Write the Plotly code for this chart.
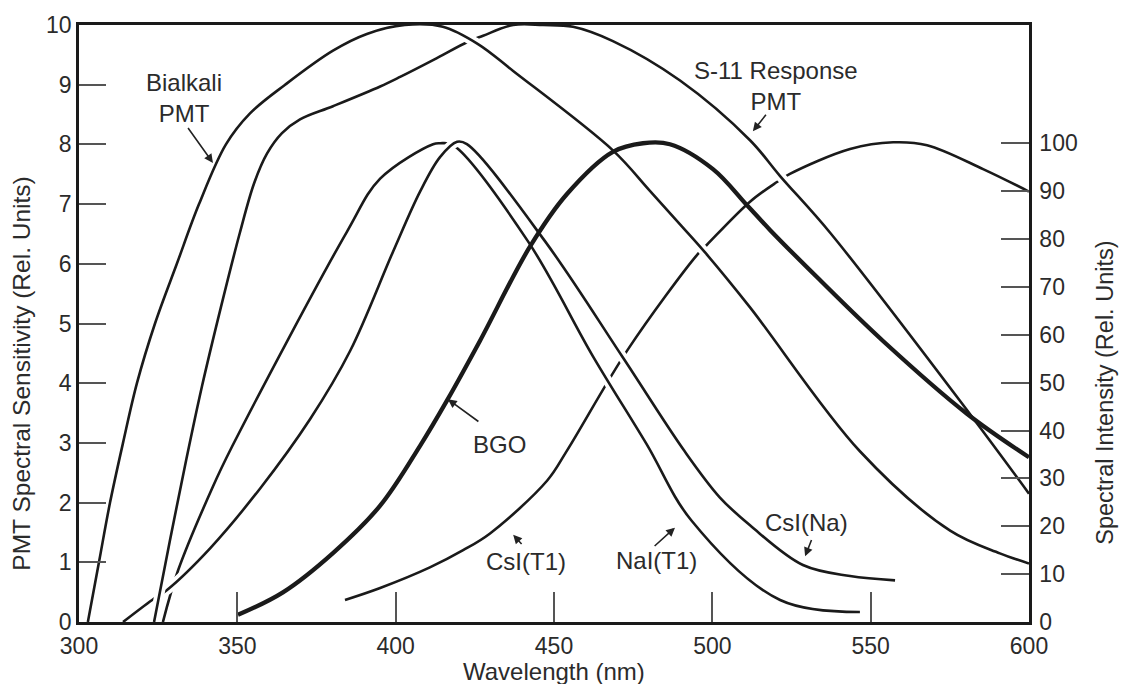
import plotly.graph_objects as go

# ---- PMT spectral sensitivity (relative units, left axis) ----
bialkali_nm = [302.8, 306.3, 309.8, 313.9, 318.3, 324.0, 330.9, 337.9, 346.4, 354.0, 365.1,
               380.2, 390.9, 402.9, 414.9, 426.0, 437.1, 468.6, 480.0, 489.8, 497.7, 511.9,
               546.6, 575.1, 590.8, 600]
bialkali_val = [0, 1.0, 2.0, 3.0, 4.0, 5.0, 6.0, 7.0, 8.0, 8.52, 9.0,
                9.57, 9.85, 10.0, 9.97, 9.68, 9.23, 7.9, 7.24, 6.66, 6.19, 5.27,
                2.86, 1.53, 1.15, 0.98]

s11_nm = [323.7, 328.7, 333.8, 338.8, 344.8, 350.8, 355.3, 359.4, 364.1, 369.8, 380.2, 395.1,
          401.4, 412.1, 422.8, 427.6, 437.1, 446.5, 456.0, 468.6, 489.8, 511.9, 521.4, 537.2,
          581.4, 600]
s11_val = [0, 1.36, 2.70, 3.94, 5.27, 6.52, 7.35, 7.85, 8.19, 8.42, 8.64, 8.97,
           9.13, 9.42, 9.72, 9.82, 10.0, 10.0, 9.97, 9.73, 9.07, 8.07, 7.47, 6.52,
           3.48, 2.15]

# ---- scintillator emission spectra (relative intensity, right axis) ----
nai_nm = [326.5, 331.3, 342.3, 348.3, 384.6, 395.1, 411.8, 414.0, 418.1, 441.8, 462.3, 479.2,
          493.4, 521.4, 546.6]
nai_int = [0, 10.8, 28.3, 36.6, 81.5, 92.6, 99.8, 100, 99.6, 79.5, 55.5, 37.2,
           21.2, 4.6, 2.1]

csina_nm = [313.9, 323.1, 327.8, 341.4, 357.2, 373.0, 385.6, 399.2, 407.7, 414.0, 419.4, 422.5,
            447.2, 471.5, 491.1, 502.4, 511.9, 528.6, 543.5, 557.7]
csina_int = [0, 4.6, 6.7, 15.4, 27.9, 42.4, 56.6, 77.4, 89.9, 97.1, 100.3, 99.8,
             79.5, 55.5, 35.8, 26.0, 20.2, 11.9, 9.6, 8.7]

bgo_nm = [350.2, 364.4, 380.2, 395.1, 407.7, 416.5, 426.6, 442.4, 454.1, 468.6, 478.1, 486.6,
          500.2, 510.9, 518.2, 533.1, 553.9, 580.4, 600]
bgo_int = [1.5, 6.2, 14.4, 24.3, 36.8, 46.6, 58.7, 78.4, 89.4, 98.2, 100, 99.8,
           94.6, 87.1, 81.9, 72.0, 58.7, 43.5, 34.4]

csitl_nm = [384.0, 395.1, 410.8, 421.3, 429.8, 447.8, 454.1, 473.4, 495.2, 498.3, 511.9, 520.4,
            524.5, 543.5, 557.1, 567.8, 585.5, 600]
csitl_int = [4.6, 7.1, 11.4, 15.0, 18.5, 29.5, 35.8, 57.0, 76.7, 78.8, 87.8, 91.9,
             93.6, 98.8, 100.2, 99.6, 94.6, 89.9]

x_ticks = [300, 350, 400, 450, 500, 550, 600]
left_ticks = list(range(0, 11))
right_ticks = list(range(0, 101, 10))

FONT = "Liberation Sans, Arial, sans-serif"
INK = "#1a1a1a"
TXT = "#2b2b2b"
THIN = 2.6
THICK = 4.3
HALO = 10


def window(xs, ys, lo, hi):
    pts = [(a, b) for a, b in zip(xs, ys) if lo <= a <= hi]
    return [p[0] for p in pts], [p[1] for p in pts]


def curve(xs, ys, axis, width, color=INK, name=None):
    return go.Scatter(x=xs, y=ys, yaxis=axis, mode="lines", name=name, showlegend=False,
                      hoverinfo="skip",
                      line=dict(color=color, width=width, shape="spline", smoothing=1.0))


fig = go.Figure()

# scintillators (base axis, drawn underneath); white halos break the curves they cross
fig.add_trace(curve(csitl_nm, csitl_int, "y", THIN, name="CsI(Tl)"))
fig.add_trace(curve(nai_nm, nai_int, "y", HALO, color="white"))
fig.add_trace(curve(nai_nm, nai_int, "y", THIN, name="NaI(Tl)"))
fig.add_trace(curve(csina_nm, csina_int, "y", HALO, color="white"))
fig.add_trace(curve(csina_nm, csina_int, "y", THIN, name="CsI(Na)"))
fig.add_trace(curve(bgo_nm, bgo_int, "y", THICK, name="BGO"))

# photomultiplier responses (overlaid axis, drawn on top)
hx, hy = window(s11_nm, s11_val, 300, 560)
fig.add_trace(curve(hx, hy, "y2", HALO, color="white"))
fig.add_trace(curve(s11_nm, s11_val, "y2", THIN, name="S-11"))
hx, hy = window(bialkali_nm, bialkali_val, 300, 450)
fig.add_trace(curve(hx, hy, "y2", HALO, color="white"))
hx, hy = window(bialkali_nm, bialkali_val, 476, 560)
fig.add_trace(curve(hx, hy, "y2", HALO, color="white"))
fig.add_trace(curve(bialkali_nm, bialkali_val, "y2", THIN, name="Bialkali"))

axis_common = dict(showgrid=False, zeroline=False, showline=True, linecolor=INK, linewidth=2.5,
                   ticks="inside", tickcolor="#555", tickwidth=1.5,
                   tickfont=dict(family=FONT, size=23, color=TXT))

fig.update_layout(
    width=1121, height=684,
    margin=dict(l=79, r=92, t=21, b=62),
    paper_bgcolor="white", plot_bgcolor="white",
    xaxis=dict(range=[300, 600], tickvals=x_ticks, ticklen=30, mirror=True,
               ticklabelstandoff=2, **axis_common),
    yaxis=dict(range=[0, 124.7], tickvals=right_ticks, side="right", ticklen=28,
               ticklabelstandoff=3, **axis_common),
    yaxis2=dict(range=[0, 10], tickvals=left_ticks, side="left", overlaying="y", anchor="x",
                ticklen=27, **axis_common),
)

label_font = dict(family=FONT, size=24, color=TXT)

# axis titles
fig.add_annotation(text="Wavelength (nm)", xref="paper", yref="paper", x=0.5, y=0,
                   yshift=-49, xanchor="center", yanchor="middle", showarrow=False,
                   font=label_font)
fig.add_annotation(text="PMT Spectral Sensitivity (Rel. Units)", xref="paper", yref="paper",
                   x=0, y=0.416, xshift=-57, xanchor="center", yanchor="middle",
                   textangle=-90, showarrow=False, font=dict(family=FONT, size=24.5, color=TXT))
fig.add_annotation(text="Spectral Intensity (Rel. Units)", xref="paper", yref="paper",
                   x=1, y=0.384, xshift=76, xanchor="center", yanchor="middle",
                   textangle=-90, showarrow=False, font=dict(family=FONT, size=23.5, color=TXT))

# curve labels (left-axis units) and pointer arrows
labels = [
    ("Bialkali<br>PMT", 333.2, 8.785),
    ("S-11 Response<br>PMT", 520.1, 8.985),
    ("BGO", 432.9, 2.97),
    ("CsI(T1)", 441.2, 1.015),
    ("NaI(T1)", 482.5, 1.03),
    ("CsI(Na)", 529.6, 1.66),
]
for txt, lx, ly in labels:
    fig.add_annotation(text=txt, x=lx, y=ly, xref="x", yref="y2", showarrow=False,
                       xanchor="center", yanchor="middle", font=label_font, align="center")

arrows = [
    ((334.1, 8.30), (342.3, 7.69)),
    ((517.3, 8.52), (512.8, 8.22)),
    ((426.6, 3.34), (416.5, 3.73)),
    ((440.2, 1.28), (437.1, 1.46)),
    ((481.3, 1.25), (488.2, 1.58)),
    ((531.5, 1.40), (529.3, 1.10)),
]
for (tx, ty), (hx_, hy_) in arrows:
    fig.add_annotation(x=hx_, y=hy_, ax=tx, ay=ty, xref="x", yref="y2", axref="x", ayref="y2",
                       text="", showarrow=True, arrowhead=2, arrowsize=1.1, arrowwidth=1.6,
                       arrowcolor="#222", standoff=0, startstandoff=0)

fig.write_html("out.html")
